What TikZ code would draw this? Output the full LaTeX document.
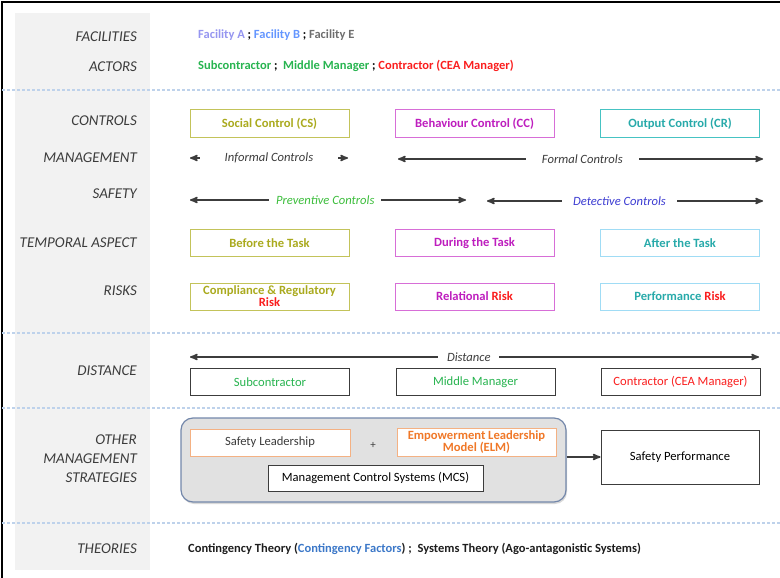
\documentclass[tikz,border=0pt]{standalone}
\usepackage{fontspec}
\setmainfont{Carlito}
\usepackage{tikz}
\usetikzlibrary{arrows, shadows}

\definecolor{textgray}{RGB}{60,60,60}
\definecolor{colgray}{RGB}{242,242,242}
\definecolor{sepblue}{RGB}{190,210,235}
\definecolor{olivetxt}{RGB}{170,170,30}
\definecolor{olivebrd}{RGB}{195,195,90}
\definecolor{magtxt}{RGB}{190,30,190}
\definecolor{magbrd}{RGB}{215,110,215}
\definecolor{tealtxt}{RGB}{40,170,170}
\definecolor{tealbrd}{RGB}{70,195,195}
\definecolor{skybrd}{RGB}{160,220,245}
\definecolor{riskred}{RGB}{250,30,30}
\definecolor{actgreen}{RGB}{40,180,80}
\definecolor{prevgreen}{RGB}{60,190,60}
\definecolor{detblue}{RGB}{60,60,210}
\definecolor{facA}{RGB}{150,150,240}
\definecolor{facB}{RGB}{100,150,255}
\definecolor{facE}{RGB}{110,110,110}
\definecolor{orgtxt}{RGB}{240,120,40}
\definecolor{orgbrd}{RGB}{244,177,131}
\definecolor{mgmtbrd}{RGB}{115,135,170}
\definecolor{mgmtfill}{RGB}{225,225,225}
\definecolor{cfblue}{RGB}{60,120,200}

\begin{document}
\begin{tikzpicture}[
    x = 1pt, y = -1pt,
    >=stealth',
    rowlabel/.style = {anchor = east, align = right, text = textgray, inner sep = 0pt,
        font = \fontsize{15}{19}\selectfont\itshape},
    rowtext/.style = {anchor = west, inner sep = 0pt, font = \fontsize{12.5}{14}\selectfont\bfseries},
    ctrlbox/.style = {draw, line width = 1pt, fill = white, minimum width = 159pt,
        minimum height = 27pt, inner sep = 1pt, align = center,
        font = \fontsize{12.6}{12}\selectfont\bfseries},
    plainbox/.style = {ctrlbox, draw = textgray, font = \fontsize{12.6}{13}\selectfont},
    twoway/.style = {<->, line width = 1.6pt, textgray},
    gap/.style = {fill = white, inner sep = 2pt, minimum height = 16pt,
        font = \fontsize{12.6}{14}\selectfont\itshape},
    divider/.style = {sepblue, line width = 1.3pt, dash pattern = on 3pt off 2pt}]

\useasboundingbox (0,0) rectangle (780,578);

% frame and label column
\fill[colgray] (15,13) rectangle (150,570);
\draw[line width = 1.5pt] (2,578) -- (2,2) -- (780,2);

\draw[divider] (2,90) -- (780,90);
\draw[divider] (2,333) -- (780,333);
\draw[divider] (2,408) -- (780,408);
\draw[divider] (2,523) -- (780,523);

% row labels
\node[rowlabel] (lfac) at (137,37) {FACILITIES};
\node[rowlabel] (lact) at (137,67) {ACTORS};
\node[rowlabel] (lctl) at (137,121) {CONTROLS};
\node[rowlabel] (lman) at (137,158) {MANAGEMENT};
\node[rowlabel] (lsaf) at (137,194) {SAFETY};
\node[rowlabel] (ltmp) at (137,243) {TEMPORAL ASPECT};
\node[rowlabel] (lrsk) at (137,291) {RISKS};
\node[rowlabel] (ldst) at (137,371) {DISTANCE};
\node[rowlabel] (loth) at (137,459) {OTHER\\MANAGEMENT\\STRATEGIES};
\node[rowlabel] (lthe) at (137,549) {THEORIES};

% facilities and actors
\node[rowtext] (fac) at (198,35) {\textcolor{facA}{Facility A} ; \textcolor{facB}{Facility B} ; \textcolor{facE}{Facility E}};
\node[rowtext] (act) at (198,66) {\textcolor{actgreen}{Subcontractor} ;~ \textcolor{actgreen}{Middle Manager} ; \textcolor{riskred}{Contractor (CEA Manager)}};

% controls
\node[ctrlbox, draw = olivebrd, text = olivetxt] (cs) at (269.5,123.5) {Social Control (CS)};
\node[ctrlbox, draw = magbrd, text = magtxt] (cc) at (474.5,123.5) {Behaviour Control (CC)};
\node[ctrlbox, draw = tealbrd, text = tealtxt] (cr) at (680,123.5) {Output Control (CR)};

% management and safety
\coordinate (infl) at (190,158);
\coordinate (infr) at (348,158);
\coordinate (forl) at (398,159);
\coordinate (forr) at (763,159);
\coordinate (prel) at (190,200);
\coordinate (prer) at (466,200);
\coordinate (detl) at (487,201);
\coordinate (detr) at (763,201);

\draw[twoway] (infl) -- node[gap, minimum width = 138pt, text = textgray] (inf) {Informal Controls} (infr);
\draw[twoway] (forl) -- node[gap, pos = .505, minimum width = 113pt, text = textgray] (for) {Formal Controls} (forr);
\draw[twoway] (prel) -- node[gap, pos = .49, minimum width = 112pt, text = prevgreen] (pre) {Preventive Controls} (prer);
\draw[twoway] (detl) -- node[gap, pos = .48, minimum width = 115pt, text = detblue] (det) {Detective Controls} (detr);

% temporal aspect
\node[ctrlbox, draw = olivebrd, text = olivetxt] (bef) at (269.5,243) {Before the Task};
\node[ctrlbox, draw = magbrd, text = magtxt] (dur) at (474.5,243) {During the Task};
\node[ctrlbox, draw = skybrd, text = tealtxt] (aft) at (680,243) {After the Task};

% risks
\node[ctrlbox, draw = olivebrd, text = olivetxt] (crr) at (269.5,296.5) {Compliance \& Regulatory\\\textcolor{riskred}{Risk}};
\node[ctrlbox, draw = magbrd, text = magtxt] (rel) at (474.5,296.5) {Relational \textcolor{riskred}{Risk}};
\node[ctrlbox, draw = skybrd, text = tealtxt] (per) at (680,296.5) {Performance \textcolor{riskred}{Risk}};

% distance
\node[plainbox, text = actgreen] (sub) at (270,382) {Subcontractor};
\node[plainbox, text = actgreen] (mid) at (475.5,382) {Middle Manager};
\node[plainbox, text = riskred] (con) at (680.5,382) {Contractor (CEA Manager)};

\coordinate (dstl) at (190,357);
\coordinate (dstr) at (759,357);
\draw[twoway] (dstl) -- node[gap, pos = .49, minimum width = 61pt, text = textgray] (dst) {Distance} (dstr);

% other management strategies
\node[draw = mgmtbrd, fill = mgmtfill, line width = 1.2pt, rounded corners = 12pt,
    drop shadow = {opacity = .3, shadow xshift = 1pt, shadow yshift = -2pt},
    minimum width = 385pt, minimum height = 84pt] (strat) at (373.5,460) {};
\node[plainbox, draw = orgbrd, text = textgray, minimum width = 160pt] (sl) at (270,442.5) {Safety Leadership};
\node[text = textgray, font = \fontsize{11}{11}\selectfont] (plus) at (373,445) {+};
\node[ctrlbox, draw = orgbrd, text = orgtxt, minimum height = 28pt] (elm) at (476.5,442) {Empowerment Leadership\\Model (ELM)};
\node[plainbox, minimum width = 215pt, minimum height = 26pt] (mcs) at (375.5,478) {Management Control Systems (MCS)};
\node[plainbox, minimum width = 158pt, minimum height = 54pt] (perf) at (680,457) {Safety Performance};

\draw[->, line width = 1.6pt, textgray] (strat.east |- perf) -- (perf.west);

% theories
\node[rowtext, text = textgray!50!black] (the) at (188,549) {Contingency Theory (\textcolor{cfblue}{Contingency Factors}) ;~ Systems Theory (Ago-antagonistic Systems)};

\end{tikzpicture}
\end{document}
